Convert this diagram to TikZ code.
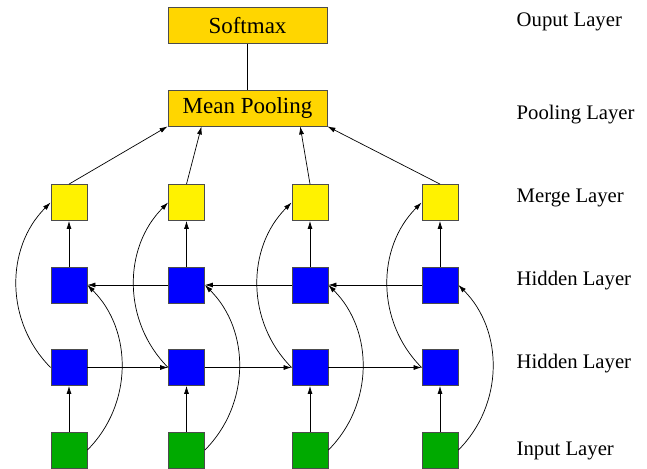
\documentclass[tikz,border=0pt]{standalone}
\usepackage{fontspec}
\setmainfont{Liberation Serif}
\usetikzlibrary{arrows.meta,calc}
\begin{document}
\begin{tikzpicture}[x=1pt,y=-1pt,
  cell/.style={draw=black!70,line width=0.8pt,minimum width=36pt,minimum height=36pt,inner sep=0pt},
  merge/.style={cell,fill=yellow},
  hid/.style={cell,fill=blue},
  inp/.style={cell,fill={rgb,255:red,0;green,170;blue,0}},
  bigbox/.style={draw=black!70,line width=0.8pt,fill={rgb,255:red,255;green,214;blue,0},minimum width=159pt,minimum height=36pt,inner sep=0pt,font=\fontsize{23}{27}\selectfont},
  lab/.style={anchor=base west,font=\fontsize{20.7}{24}\selectfont,inner sep=0pt},
  arr/.style={-{Latex[length=8pt,width=5pt]},line width=0.7pt},
  ln/.style={line width=0.7pt}]
\useasboundingbox (0,0) rectangle (647,468);
\node[bigbox] (sm) at (247.5,25.5) {Softmax};
\node[bigbox] (mp) at (247.5,108) {Mean Pooling};
\foreach \i/\x in {1/69,2/186.5,3/310,4/440}{
  \node[merge] (m\i) at (\x,202.5) {};
  \node[hid] (b\i) at (\x,285) {};
  \node[hid] (a\i) at (\x,367.5) {};
  \node[inp] (in\i) at (\x,450) {};
}
\node[lab] (l1) at (516.5,27) {Ouput Layer};
\node[lab] (l2) at (516.5,120) {Pooling Layer};
\node[lab] (l3) at (516.5,202) {Merge Layer};
\node[lab] (l4) at (516.5,285) {Hidden Layer};
\node[lab] (l5) at (516.5,368) {Hidden Layer};
\node[lab] (l6) at (516.5,455) {Input Layer};
\draw[ln] (sm) -- (mp);
\coordinate (p2) at ($(mp.south west)!0.212!(mp.south east)$);
\coordinate (p3) at ($(mp.south west)!0.83!(mp.south east)$);
\draw[arr] (m1.north) -- (mp.south west);
\draw[arr] (m2.north) -- (p2);
\draw[arr] (m3.north) -- (p3);
\draw[arr] (m4.north) -- (mp.south east);
\foreach \i in {1,2,3,4}{
  \draw[arr] (b\i) -- (m\i);
  \draw[arr] (in\i) -- (a\i);
  \draw[arr] (in\i.east) to[bend right=45] (b\i.east);
  \draw[arr] (a\i.west) to[bend left=45] (m\i.west);
}
\foreach \i/\j in {1/2,2/3,3/4}{
  \draw[arr] (a\i.east) -- (a\j.west);
  \draw[arr] (b\j.west) -- (b\i.east);
}
\end{tikzpicture}
\end{document}
